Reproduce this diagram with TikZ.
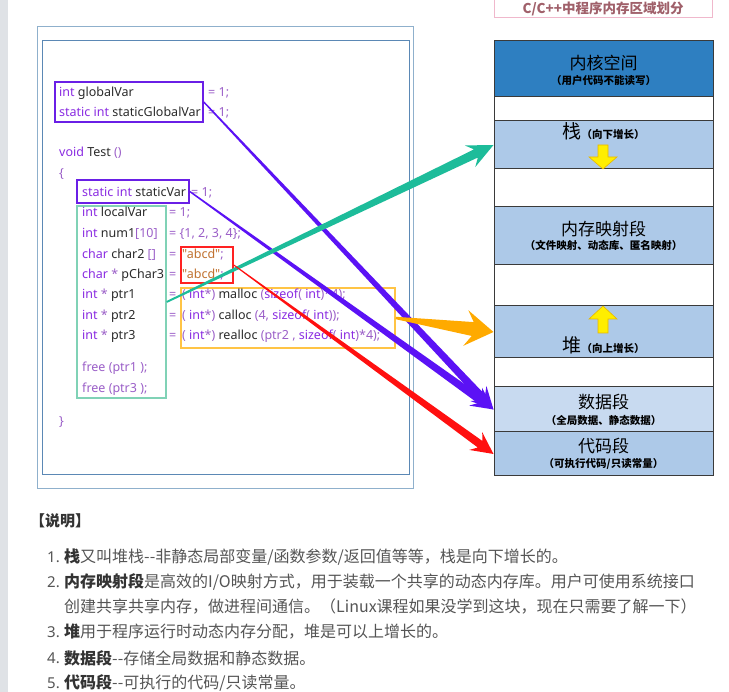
\documentclass[tikz,border=0pt]{standalone}
\usepackage{fontspec}
\setmainfont{Noto Sans}
\newfontfamily\codefont{Noto Sans}
\newfontfamily\cjkfont{Noto Sans CJK SC}
\usetikzlibrary{calc}
\definecolor{sidebar}{HTML}{DFE2E6}
\definecolor{frameout}{HTML}{8FB0CC}
\definecolor{framein}{HTML}{5B88B5}
\definecolor{ckwc}{HTML}{8A2BE2}
\definecolor{cpuc}{HTML}{9B5FC8}
\definecolor{cidc}{HTML}{2B2B2B}
\definecolor{cstrc}{HTML}{C0712F}
\definecolor{boxpurple}{HTML}{6A1FE6}
\definecolor{boxgreen}{HTML}{80D2B6}
\definecolor{boxred}{HTML}{FF2222}
\definecolor{boxorange}{HTML}{FFC445}
\definecolor{kernelblue}{HTML}{2E7FC1}
\definecolor{seglight}{HTML}{ADC9E8}
\definecolor{segdata}{HTML}{C8DAF0}
\definecolor{segborder}{HTML}{3A3A3A}
\definecolor{arpurple}{HTML}{5B12F5}
\definecolor{arteal}{HTML}{1DBC9A}
\definecolor{arorange}{HTML}{FFAA00}
\definecolor{arred}{HTML}{FF1010}
\definecolor{yfill}{HTML}{FFEE00}
\definecolor{yedge}{HTML}{E8B800}
\definecolor{titlec}{HTML}{A0606A}
\definecolor{titleb}{HTML}{F0B8CC}
\definecolor{desct}{HTML}{555555}
\definecolor{descb}{HTML}{333333}
\newcommand\ckw[1]{\textcolor{ckwc}{#1}}
\newcommand\cpu[1]{\textcolor{cpuc}{#1}}
\newcommand\cid[1]{\textcolor{cidc}{#1}}
\newcommand\cstr[1]{\textcolor{cstrc}{#1}}
\newcommand\segsmall{\cjkfont\bfseries\fontsize{10.5}{12}\selectfont}
\newcommand\segbig{\cjkfont\fontsize{17}{19}\selectfont}
% tapered arrow: color, from, to, start half width, shaft half width, head length, head half width
\newcommand\tarrow[7]{%
  \pgfmathsetmacro\tsl{#6*0.75}%
  \path ($(#3)!#6pt!(#2)$) coordinate (hb) ($(#3)!\tsl pt!(#2)$) coordinate (hs);
  \fill[#1] ($(#2)!#4pt!90:(#3)$) -- ($(hs)!#5pt!-90:(#2)$) -- ($(hb)!#7pt!-90:(#2)$)
    -- (#3) -- ($(hb)!#7pt!90:(#2)$) -- ($(hs)!#5pt!90:(#2)$) -- ($(#2)!#4pt!-90:(#3)$) -- cycle;
}
\begin{document}
\begin{tikzpicture}[x=1pt,y=-1pt,
  code/.style={anchor=base west,inner sep=0pt,font=\codefont\fontsize{12.5}{14}\selectfont},
  pbox/.style={draw=boxpurple,line width=1.6pt,inner sep=0pt},
  seg/.style={draw=segborder,line width=1pt,minimum width=219pt,inner sep=0pt},
  bigt/.style={inner sep=0pt,font=\segbig,text=black},
  smallt/.style={inner sep=0pt,font=\segsmall,text=black},
  yarrow/.style={fill=yfill,draw=yedge,line width=0.6pt},
  desc/.style={anchor=west,inner sep=0pt,text=desct,font=\cjkfont\fontsize{16}{18}\selectfont},
  num/.style={anchor=west,inner sep=0pt,text=desct,font=\fontsize{15}{18}\selectfont}]
\useasboundingbox (0,0) rectangle (729,692);
\clip (0,0) rectangle (729,692);
\fill[white] (0,0) rectangle (729,692);
\fill[sidebar] (0,0) rectangle (8,692);

% frames
\node[draw=frameout,line width=1pt,minimum width=376pt,minimum height=462pt,inner sep=0pt] (outer) at (225,258) {};
\node[draw=framein,line width=1pt,minimum width=367pt,minimum height=434pt,inner sep=0pt] (inner) at (225.5,258) {};

% code boxes
\node[pbox,minimum width=148pt,minimum height=40pt] (gbox) at (129,102) {};
\node[pbox,minimum width=112pt,minimum height=23pt] (sbox) at (133,191.5) {};
\node[draw=boxgreen,line width=1.3pt,minimum width=89pt,minimum height=192pt,inner sep=0pt] (greenbox) at (121.5,302) {};
\node[draw=boxred,line width=1.6pt,minimum width=52pt,minimum height=36pt,inner sep=0pt] (redbox) at (207,265) {};
\node[draw=boxorange,line width=1.6pt,minimum width=214pt,minimum height=60pt,inner sep=0pt] (orangebox) at (288,318) {};

% code text
\node[code] (l1) at (59,97) {\ckw{int} \cid{globalVar}};
\node[code] (l1r) at (208,97) {\cpu{= 1;}};
\node[code] (l2) at (59,117) {\ckw{static int} \cid{staticGlobalVar}};
\node[code] (l2r) at (208,117) {\cpu{= 1;}};
\node[code] (l3) at (59,157) {\ckw{void} \cid{Test} \cpu{()}};
\node[code] (l4) at (59,178) {\cpu{\{}};
\node[code] (l5) at (82,197) {\ckw{static int} \cid{staticVar}};
\node[code] (l5r) at (191,197) {\cpu{= 1;}};
\node[code] (l6) at (82,217) {\ckw{int} \cid{localVar}};
\node[code] (l6r) at (169,217) {\cpu{= 1;}};
\node[code] (l7) at (82,238) {\ckw{int} \cid{num1}\cpu{[10]}};
\node[code] (l7r) at (169,238) {\cpu{= \{1, 2, 3, 4\};}};
\node[code] (l8) at (82,259) {\ckw{char} \cid{char2} \cpu{[]}};
\node[code] (l8e) at (169,259) {\cpu{=}};
\node[code] (l8r) at (182,259) {\cstr{"abcd"}\cpu{;}};
\node[code] (l9) at (82,279) {\ckw{char} \cpu{*} \cid{pChar3}};
\node[code] (l9e) at (169,279) {\cpu{=}};
\node[code] (l9r) at (182,279) {\cstr{"abcd"}\cpu{;}};
\node[code] (l10) at (82,299) {\ckw{int} \cpu{*} \cid{ptr1}};
\node[code] (l10e) at (169,299) {\cpu{=}};
\node[code] (l10r) at (182,299) {\cpu{( }\ckw{int}\cpu{*)} \cid{malloc} \cpu{(}\ckw{sizeof}\cpu{ ( }\ckw{int}\cpu{)*4);}};
\node[code] (l11) at (82,320) {\ckw{int} \cpu{*} \cid{ptr2}};
\node[code] (l11e) at (169,320) {\cpu{=}};
\node[code] (l11r) at (182,320) {\cpu{( }\ckw{int}\cpu{*)} \cid{calloc} \cpu{(4, }\ckw{sizeof}\cpu{ ( }\ckw{int}\cpu{));}};
\node[code] (l12) at (82,340) {\ckw{int} \cpu{*} \cid{ptr3}};
\node[code] (l12e) at (169,340) {\cpu{=}};
\node[code] (l12r) at (182,340) {\cpu{( }\ckw{int}\cpu{*)} \cid{realloc} \cpu{(ptr2 , }\ckw{sizeof}\cpu{( }\ckw{int}\cpu{ )*4);}};
\node[code] (l13) at (82,372) {\cpu{free (ptr1 );}};
\node[code] (l14) at (82,393) {\cpu{free (ptr3 );}};
\node[code] (l15) at (59,426) {\cpu{\}}};

% title
\node[draw=titleb,line width=1pt,minimum width=218pt,minimum height=22pt,inner sep=0pt] (titlebox) at (603,6.5) {};
\node[inner sep=0pt,text=titlec,font=\cjkfont\bfseries\fontsize{13.5}{16}\selectfont] (title) at (603,8.5) {C/C++中程序内存区域划分};

% memory segments
\node[seg,fill=kernelblue,minimum height=56pt] (kernel) at (603.5,69) {};
\node[seg,fill=white,minimum height=24pt] (gap1) at (603.5,109) {};
\node[seg,fill=seglight,minimum height=48pt] (stack) at (603.5,145) {};
\node[seg,fill=white,minimum height=38pt] (gap2) at (603.5,188) {};
\node[seg,fill=seglight,minimum height=58pt] (mmap) at (603.5,236) {};
\node[seg,fill=white,minimum height=41pt] (gap3) at (603.5,285.5) {};
\node[seg,fill=seglight,minimum height=52pt] (heap) at (603.5,332) {};
\node[seg,fill=white,minimum height=29pt] (gap4) at (603.5,372.5) {};
\node[seg,fill=segdata,minimum height=45pt] (data) at (603.5,409.5) {};
\node[seg,fill=seglight,minimum height=44pt] (code) at (603.5,454) {};

\node[bigt] (kt) at (603.5,63) {内核空间};
\node[smallt] (ks) at (603.5,81) {（用户代码不能读写）};
\node[bigt,anchor=base] (stt) at (603.5,139) {{\fontsize{19}{20}\selectfont 栈}{\segsmall（向下增长）}};
\node[bigt] (mt) at (603.5,229) {内存映射段};
\node[smallt] (ms) at (603.5,245) {（文件映射、动态库、匿名映射）};
\node[bigt,anchor=base] (ht) at (603.5,353) {{\fontsize{19}{20}\selectfont 堆}{\segsmall（向上增长）}};
\node[bigt] (dt) at (603.5,402) {数据段};
\node[smallt] (ds) at (603.5,420) {（全局数据、静态数据）};
\node[bigt] (ct) at (603.5,446) {代码段};
\node[smallt] (cs) at (603.5,464) {（可执行代码/只读常量）};

\draw[yarrow] (598,145) -- (608,145) -- (608,157) -- (617,157) -- (603,169) -- (589,157) -- (598,157) -- cycle;
\draw[yarrow] (603,306) -- (617,319) -- (608,319) -- (608,333) -- (598,333) -- (598,319) -- (589,319) -- cycle;

% connectors
\tarrow{arpurple}{gbox.east}{data.west}{0.7}{4}{22}{11}
\tarrow{arpurple}{sbox.east}{data.west}{0.7}{4}{22}{11}
\tarrow{arteal}{greenbox.east}{stack.west}{0.9}{4.5}{26}{12}
\tarrow{arred}{redbox.east}{code.west}{0.5}{4}{22}{11}
\tarrow{arorange}{orangebox.east}{heap.west}{1.2}{7}{28}{18}

% description
\node[desc,text=descb,font=\cjkfont\bfseries\fontsize{15}{18}\selectfont] (head) at (30,521) {【说明】};
\node[num] (n1) at (47,557) {1.};
\node[desc] (t1) at (64,557) {\textcolor{descb}{\bfseries 栈}又叫堆栈-{}-非静态局部变量/函数参数/返回值等等，栈是向下增长的。};
\node[num] (n2) at (47,582) {2.};
\node[desc] (t2) at (64,582) {\textcolor{descb}{\bfseries 内存映射段}是高效的I/O映射方式，用于装载一个共享的动态内存库。用户可使用系统接口};
\node[desc] (t2b) at (64,607) {创建共享共享内存，做进程间通信。（Linux课程如果没学到这块，现在只需要了解一下）};
\node[num] (n3) at (47,632) {3.};
\node[desc] (t3) at (64,632) {\textcolor{descb}{\bfseries 堆}用于程序运行时动态内存分配，堆是可以上增长的。};
\node[num] (n4) at (47,658) {4.};
\node[desc] (t4) at (64,658) {\textcolor{descb}{\bfseries 数据段}-{}-存储全局数据和静态数据。};
\node[num] (n5) at (47,683) {5.};
\node[desc] (t5) at (64,683) {\textcolor{descb}{\bfseries 代码段}-{}-可执行的代码/只读常量。};
\end{tikzpicture}
\end{document}
